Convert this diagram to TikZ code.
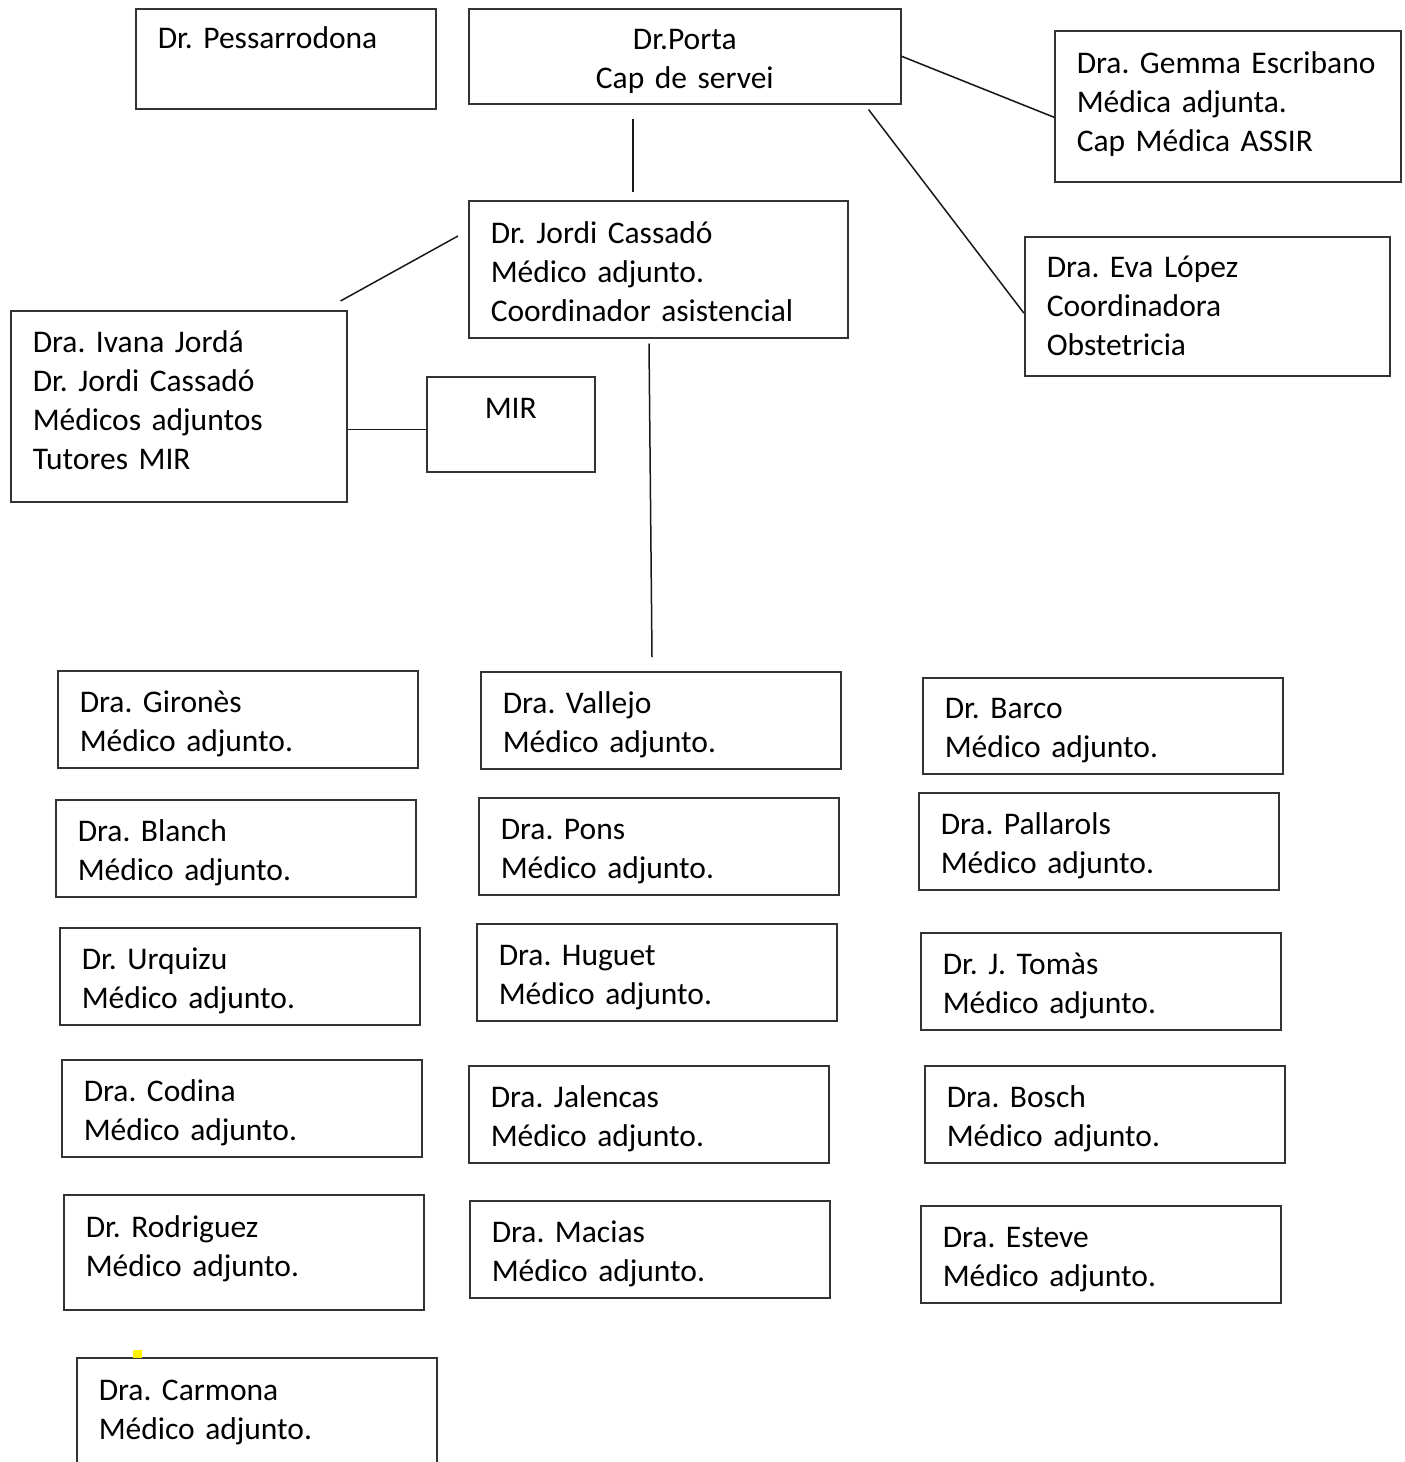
\documentclass[tikz,border=0pt]{standalone}
\usepackage{fontspec}
\setmainfont{Carlito}
\usetikzlibrary{positioning, calc}
\frenchspacing
\hyphenpenalty=10000

\begin{document}
\begin{tikzpicture}[
  x=1pt, y=-1pt,
  every node/.style={font=\fontsize{31.5}{39}\selectfont},
  box/.style={rectangle, draw=black!80, line width=1.5pt, anchor=north west, align=left,
    inner xsep=22pt, inner ysep=0pt, text height=42pt},
  staff/.style={box, text width=316pt, text depth=55pt},
  link/.style={line width=1.5pt, black!90},
]
\useasboundingbox (0,0) rectangle (1405,1462);
\fill[white] (0,0) rectangle (1405,1462);
\clip (0,0) rectangle (1405,1462);

% Top row
\node[box, text width=256pt, text height=40pt, text depth=60pt] (pessa) at (135,8) {Dr. Pessarrodona};
\node[box, align=center, text width=388pt, text height=41pt, text depth=54pt] (porta) at (468,8) {Dr.Porta\\Cap de servei};
\node[box, text width=302pt, text height=43pt, text depth=108pt] (escri) at (1054,30) {Dra. Gemma Escribano\\Médica adjunta.\\Cap Médica ASSIR};

% Second level
\node[box, text width=335pt, text height=43pt, text depth=94pt] (cassa) at (468,200) {Dr. Jordi Cassadó\\Médico adjunto.\\Coordinador asistencial};
\node[box, text width=321pt, text height=41pt, text depth=98pt] (lopez) at (1024,236) {Dra. Eva López\\Coordinadora\\Obstetricia};
\node[box, text width=292pt, text depth=149pt] (ivana) at (10,310) {Dra. Ivana Jordá\\Dr. Jordi Cassadó\\Médicos adjuntos\\Tutores MIR};
\node[box, align=center, text width=124pt, text depth=53pt] (mir) at (426,376) {MIR};

% Left column
\node[staff] (giro) at (57,670) {Dra. Gironès\\Médico adjunto.};
\node[staff] (blanch) at (55,799) {Dra. Blanch\\Médico adjunto.};
\node[staff] (urqu) at (59,927) {Dr. Urquizu\\Médico adjunto.};
\node[staff] (codina) at (61,1059) {Dra. Codina\\Médico adjunto.};
\node[staff, text height=43pt, text depth=72pt] (rodri) at (63,1194) {Dr. Rodriguez\\Médico adjunto.};
\node[staff, text height=43pt, text depth=77pt] (carmo) at (76,1357) {Dra. Carmona\\Médico adjunto.};

% Middle column
\node[staff] (vallejo) at (480,671) {Dra. Vallejo\\Médico adjunto.};
\node[staff] (pons) at (478,797) {Dra. Pons\\Médico adjunto.};
\node[staff] (huguet) at (476,923) {Dra. Huguet\\Médico adjunto.};
\node[staff] (jalen) at (468,1065) {Dra. Jalencas\\Médico adjunto.};
\node[staff] (macias) at (469,1200) {Dra. Macias\\Médico adjunto.};

% Right column
\node[staff, text height=41pt] (barco) at (922,677) {Dr. Barco\\Médico adjunto.};
\node[staff] (palla) at (918,792) {Dra. Pallarols\\Médico adjunto.};
\node[staff] (tomas) at (920,932) {Dr. J. Tomàs\\Médico adjunto.};
\node[staff] (bosch) at (924,1065) {Dra. Bosch\\Médico adjunto.};
\node[staff] (esteve) at (920,1205) {Dra. Esteve\\Médico adjunto.};

% Connectors
\draw[link] ($(porta.south west)+(165,14)$) -- ($(cassa.north west)+(165,-8)$);
\draw[link] (porta.east) -- ($(escri.west)+(0,11)$);
\draw[link] ($(porta.south east)+(-33,5)$) -- ($(lopez.west)+(0,7)$);
\draw[link] ($(cassa.north west)+(-10,36)$) -- ($(ivana.north east)+(-7,-9)$);
\coordinate (mirin) at ($(mir.west)+(0,5)$);
\draw[link] (ivana.east |- mirin) -- (mirin);
\draw[link] ($(cassa.south west)+(181,5)$) -- ($(vallejo.north west)+(172,-14)$);

% Yellow mark
\fill[yellow] (133,1350) rectangle (142,1358);

\end{tikzpicture}
\end{document}
